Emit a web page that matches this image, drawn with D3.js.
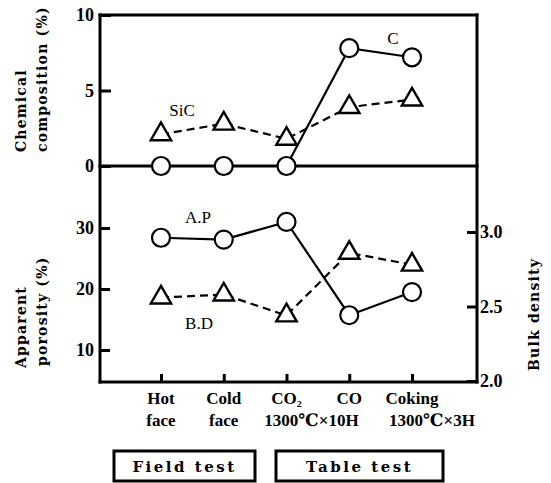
<!DOCTYPE html>
<html>
<head>
<meta charset="utf-8">
<script src="https://cdn.jsdelivr.net/npm/d3@7"></script>
<style>
body { margin: 0; background: #fff; }
</style>
</head>
<body>
<div id="chart"></div>
<script>
// categories and two-line labels
var categories = ["Hot face", "Cold face", "CO2", "CO", "Coking"];
var labelTop = ["Hot", "Cold", "CO₂", "CO", "Coking"];
var labelBottom = ["face", "face", "1300℃×10H", "", "1300℃×3H"];

// chemical composition (%)
var carbon = [0, 0, 0, 7.8, 7.2];
var sic = [2.1, 2.8, 1.8, 3.9, 4.4];

// apparent porosity (%) and bulk density
var porosity = [28.4, 28.1, 31.0, 15.7, 19.5];
var density = [2.56, 2.58, 2.44, 2.86, 2.78];

var topTicks = [0, 5, 10];
var apTicks = [10, 20, 30];
var bdTicks = [2.0, 2.5, 3.0];

var svg = d3.select("#chart")
    .append("svg")
    .attr("width", 551)
    .attr("height", 483);

var xLeft = 100, xRight = 477, yFrameTop = 15, yMid = 166, yBottom = 382;
var ink = "#000";
var serif = "'Liberation Serif', 'DejaVu Serif', serif";
var slab = "'DejaVu Serif', 'Liberation Serif', serif";

var x = d3.scalePoint().domain(categories).range([161, 412]);
var yTop = d3.scaleLinear().domain([0, 10]).range([yMid, yFrameTop]);
var yAP = d3.scaleLinear().domain([10, 30]).range([350, 228]);
var yBD = d3.scaleLinear().domain([2, 3]).range([381, 232]);

// axes
function styleAxis(g) {
    g.select(".domain").remove();
    g.selectAll(".tick line").attr("stroke", ink).attr("stroke-width", 3);
    g.selectAll(".tick text")
        .attr("fill", ink)
        .attr("font-family", serif)
        .attr("font-weight", "bold")
        .attr("font-size", "18px");
}

svg.append("g")
    .attr("transform", "translate(" + xLeft + ",0)")
    .call(d3.axisLeft(yTop).tickValues(topTicks).tickSize(-11).tickPadding(6))
    .call(styleAxis);

svg.append("g")
    .attr("transform", "translate(" + xLeft + ",0)")
    .call(d3.axisLeft(yAP).tickValues(apTicks).tickSize(-10).tickPadding(6))
    .call(styleAxis);

svg.append("g")
    .attr("transform", "translate(" + xRight + ",0)")
    .call(d3.axisRight(yBD).tickValues(bdTicks).tickFormat(d3.format(".1f")).tickSize(-10).tickPadding(3))
    .call(styleAxis);

svg.append("g")
    .attr("transform", "translate(0," + yBottom + ")")
    .call(d3.axisBottom(x).tickSize(-8).tickFormat(""))
    .call(styleAxis);

// frame
var frame = [
    [xLeft, yFrameTop, xRight, yFrameTop],
    [xLeft, yFrameTop, xLeft, yBottom],
    [xRight, yFrameTop, xRight, yBottom],
    [xLeft, yMid, xRight, yMid],
    [xLeft, yBottom, xRight, yBottom]
];
frame.forEach(function (f) {
    svg.append("line")
        .attr("x1", f[0]).attr("y1", f[1])
        .attr("x2", f[2]).attr("y2", f[3])
        .attr("stroke", ink)
        .attr("stroke-width", 3)
        .attr("stroke-linecap", "square");
});

// series
function drawLine(values, y, dashed) {
    var line = d3.line()
        .x(function (d, i) { return x(categories[i]); })
        .y(function (d) { return y(d); });
    svg.append("path")
        .datum(values)
        .attr("d", line)
        .attr("fill", "none")
        .attr("stroke", ink)
        .attr("stroke-width", 2.2)
        .attr("stroke-dasharray", dashed ? "8,5" : null);
}

function drawCircles(values, y) {
    svg.append("g").selectAll("circle")
        .data(values)
        .enter()
        .append("circle")
        .attr("cx", function (d, i) { return x(categories[i]); })
        .attr("cy", function (d) { return y(d); })
        .attr("r", 9)
        .attr("fill", "#fff")
        .attr("stroke", ink)
        .attr("stroke-width", 2.2);
}

var triangle = d3.symbol().type(d3.symbolTriangle).size(180);
function drawTriangles(values, y) {
    svg.append("g").selectAll("path")
        .data(values)
        .enter()
        .append("path")
        .attr("d", triangle)
        .attr("transform", function (d, i) {
            return "translate(" + x(categories[i]) + "," + y(d) + ")";
        })
        .attr("fill", "#fff")
        .attr("stroke", ink)
        .attr("stroke-width", 2.4);
}

drawLine(sic, yTop, true);
drawLine(carbon, yTop, false);
drawTriangles(sic, yTop);
drawCircles(carbon, yTop);

drawLine(density, yBD, true);
drawLine(porosity, yAP, false);
drawTriangles(density, yBD);
drawCircles(porosity, yAP);

// series labels
var seriesLabels = [
    { text: "C", x: 393, y: 44 },
    { text: "SiC", x: 182, y: 116 },
    { text: "A.P", x: 198, y: 223 },
    { text: "B.D", x: 199, y: 329 }
];
seriesLabels.forEach(function (l) {
    svg.append("text")
        .attr("x", l.x)
        .attr("y", l.y)
        .attr("text-anchor", "middle")
        .attr("font-family", serif)
        .attr("font-size", "17px")
        .attr("fill", ink)
        .text(l.text);
});

// axis titles (rotated)
function vTitle(text, tx, ty) {
    svg.append("text")
        .attr("transform", "translate(" + tx + "," + ty + ") rotate(-90)")
        .attr("text-anchor", "start")
        .attr("font-family", slab)
        .attr("font-weight", "bold")
        .attr("font-size", "14px")
        .attr("letter-spacing", "1.2px")
        .attr("fill", ink)
        .text(text);
}
vTitle("Chemical", 26, 152);
vTitle("composition (%)", 47, 152);
vTitle("Apparent", 26, 368);
vTitle("porosity (%)", 47, 366);
vTitle("Bulk density", 539, 371);

// category labels
var catOffset = [0, 0, 25, 0, 20];
categories.forEach(function (c, i) {
    svg.append("text")
        .attr("x", x(c))
        .attr("y", 404)
        .attr("text-anchor", "middle")
        .attr("font-family", serif)
        .attr("font-weight", "bold")
        .attr("font-size", "17px")
        .attr("fill", ink)
        .text(labelTop[i]);
    svg.append("text")
        .attr("x", x(c) + catOffset[i])
        .attr("y", 426)
        .attr("text-anchor", "middle")
        .attr("font-family", serif)
        .attr("font-weight", "bold")
        .attr("font-size", "17px")
        .attr("fill", ink)
        .text(labelBottom[i]);
});

// test boxes
var boxes = [
    { text: "Field test", x0: 114, x1: 255 },
    { text: "Table test", x0: 276, x1: 443 }
];
boxes.forEach(function (b) {
    svg.append("rect")
        .attr("x", b.x0)
        .attr("y", 451)
        .attr("width", b.x1 - b.x0)
        .attr("height", 30)
        .attr("fill", "none")
        .attr("stroke", ink)
        .attr("stroke-width", 3);
    svg.append("text")
        .attr("x", (b.x0 + b.x1) / 2)
        .attr("y", 472)
        .attr("text-anchor", "middle")
        .attr("font-family", slab)
        .attr("font-weight", "bold")
        .attr("font-size", "15px")
        .attr("letter-spacing", "2.5px")
        .attr("fill", ink)
        .text(b.text);
});
</script>
</body>
</html>
